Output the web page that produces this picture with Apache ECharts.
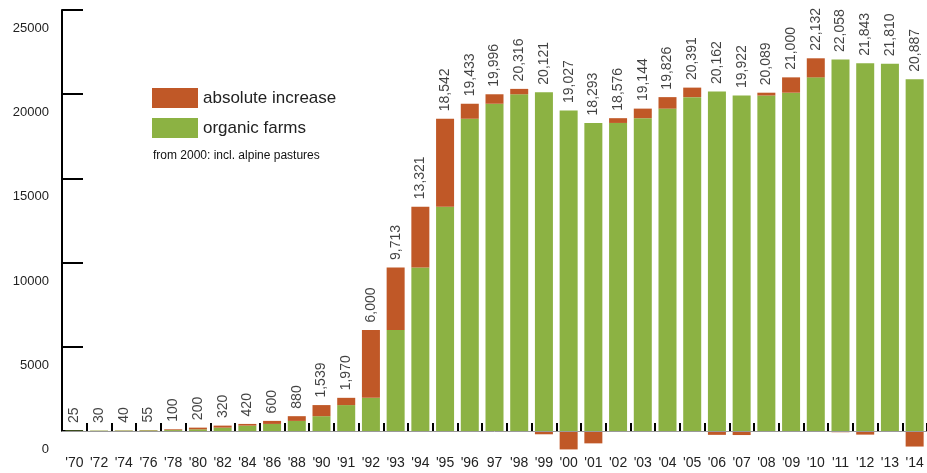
<!DOCTYPE html>
<html>
<head>
<meta charset="utf-8">
<script src="https://cdn.jsdelivr.net/npm/echarts@6/dist/echarts.min.js"></script>
<style>
  html, body { margin: 0; padding: 0; background: #fff; }
  #chart { width: 927px; height: 473px; }
</style>
</head>
<body>
<div id="chart"></div>
<script>
// year labels ('97 has no apostrophe in the original)
var years = ["'70", "'72", "'74", "'76", "'78", "'80", "'82", "'84", "'86", "'88",
  "'90", "'91", "'92", "'93", "'94", "'95", "'96", "97", "'98", "'99",
  "'00", "'01", "'02", "'03", "'04", "'05", "'06", "'07", "'08", "'09",
  "'10", "'11", "'12", "'13", "'14"];

// number of organic farms (printed above each bar)
var totals = [25, 30, 40, 55, 100, 200, 320, 420, 600, 880,
  1539, 1970, 6000, 9713, 13321, 18542, 19433, 19996, 20316, 20121,
  19027, 18293, 18576, 19144, 19826, 20391, 20162, 19922, 20089, 21000,
  22132, 22058, 21843, 21810, 20887];

// green part of the bar
var farms = [25, 25, 30, 40, 55, 100, 200, 320, 420, 600,
  880, 1539, 1970, 6000, 9713, 13321, 18542, 19433, 19996, 20121,
  19027, 18293, 18293, 18576, 19144, 19826, 20162, 19922, 19922, 20089,
  21000, 22058, 21843, 21810, 20887];

// orange part: change against the previous year (decreases hang below 0)
var increase = [0, 5, 10, 15, 45, 100, 120, 100, 180, 280,
  659, 431, 4030, 3713, 3608, 5221, 891, 563, 320, -195,
  -1094, -734, 283, 568, 682, 565, -229, -240, 167, 911,
  1132, -74, -215, -33, -923];

var font = "'Liberation Sans', Arial, sans-serif";
var chart = echarts.init(document.getElementById('chart'));

chart.setOption({
  animation: false,
  textStyle: { fontFamily: font },
  grid: { left: 62, right: -10, top: 10, bottom: 42 },
  legend: {
    data: ['absolute increase', 'organic farms'],
    orient: 'vertical',
    left: 147,
    top: 83,
    itemWidth: 46,
    itemHeight: 20,
    itemGap: 10,
    icon: 'rect',
    selectedMode: false,
    textStyle: { fontSize: 17, color: '#222', fontFamily: font }
  },
  graphic: [{
    type: 'text',
    left: 153,
    top: 150,
    style: { text: 'from 2000: incl. alpine pastures', font: '12px ' + font, fill: '#111' }
  }],
  xAxis: {
    type: 'category',
    data: years,
    axisLine: { lineStyle: { color: '#999', width: 1 } },
    axisTick: { show: true, inside: true, length: 8, lineStyle: { color: '#000', width: 2 } },
    axisLabel: { fontSize: 14, color: '#222', margin: 25, interval: 0 },
    z: 5
  },
  yAxis: {
    type: 'value',
    min: 0,
    max: 25000,
    interval: 5000,
    axisLine: { show: true, lineStyle: { color: '#000', width: 2 } },
    axisTick: { show: true, inside: true, length: 21, lineStyle: { color: '#000', width: 2 } },
    splitLine: { show: false },
    axisLabel: {
      fontSize: 13, color: '#222', margin: 13,
      verticalAlign: 'top', padding: [12, 0, 0, 0],
      formatter: function (v) { return String(v); }
    }
  },
  series: [
    {
      name: 'organic farms',
      type: 'bar',
      stack: 'a',
      barWidth: 18,
      clip: false,
      data: farms,
      itemStyle: { color: '#8cb243' }
    },
    {
      name: 'absolute increase',
      type: 'bar',
      stack: 'a',
      barWidth: 18,
      clip: false,
      data: increase,
      itemStyle: { color: '#c05827' }
    },
    {
      name: 'labels',
      type: 'scatter',
      data: totals,
      symbolSize: 1,
      itemStyle: { color: 'rgba(0,0,0,0)' },
      silent: true,
      label: {
        show: true,
        position: 'top',
        distance: 7,
        rotate: 90,
        align: 'left',
        verticalAlign: 'middle',
        fontSize: 14,
        color: '#111',
        formatter: function (p) {
          return p.value.toLocaleString('en-US');
        }
      }
    }
  ]
});
</script>
</body>
</html>
